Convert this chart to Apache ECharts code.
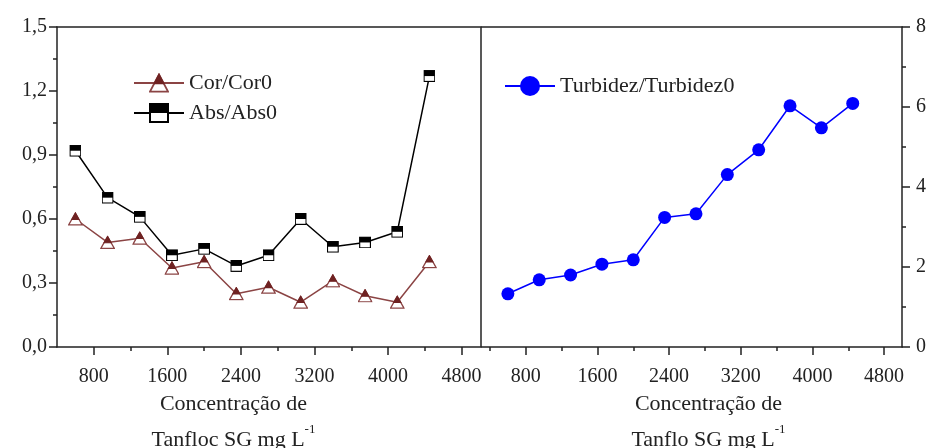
<!DOCTYPE html>
<html>
<head>
<meta charset="utf-8">
<script src="https://cdn.jsdelivr.net/npm/echarts@6/dist/echarts.min.js"></script>
<style>html,body{margin:0;padding:0;background:#fff;}#c{width:930px;height:448px;}</style>
</head>
<body>
<div id="c"></div>
<script>
const concentration = [600, 950, 1300, 1650, 2000, 2350, 2700, 3050, 3400, 3750, 4100, 4450];
const corRatio = [0.60, 0.49, 0.51, 0.37, 0.40, 0.25, 0.28, 0.21, 0.31, 0.24, 0.21, 0.40];
const absRatio = [0.92, 0.70, 0.61, 0.43, 0.46, 0.38, 0.43, 0.60, 0.47, 0.49, 0.54, 1.27];
const turbRatio = [1.33, 1.68, 1.80, 2.07, 2.18, 3.24, 3.33, 4.31, 4.93, 6.03, 5.48, 6.09];
const xMajorTicks = [800, 1600, 2400, 3200, 4000, 4800];
const xMinorTicksLeft = [1200, 2000, 2800, 3600, 4400];
const xMinorTicksRight = [400, 1200, 2000, 2800, 3600, 4400];
const seriesNames = ['Cor/Cor0', 'Abs/Abs0', 'Turbidez/Turbidez0'];
const xTitleLeft = ['Concentração de', 'Tanfloc SG mg L'];
const xTitleRight = ['Concentração de', 'Tanflo SG mg L'];

const FONT = '"Liberation Serif", "Times New Roman", serif';
const INK = '#222';
const BROWN_FILL = '#6f2222';
const BROWN_LINE = '#8b4444';

function svgUri(svg) { return 'image://data:image/svg+xml;charset=utf-8,' + encodeURIComponent(svg); }
const squareHalf = svgUri("<svg xmlns='http://www.w3.org/2000/svg' width='40' height='40' viewBox='0 0 40 40'><rect x='2' y='2' width='36' height='36' fill='white' stroke='black' stroke-width='4'/><rect x='2' y='2' width='36' height='18' fill='black'/></svg>");
const triHalf = svgUri("<svg xmlns='http://www.w3.org/2000/svg' width='40' height='40' viewBox='0 0 40 40'><polygon points='20,3 38,37 2,37' fill='white' stroke='" + BROWN_LINE + "' stroke-width='3.5' stroke-linejoin='miter'/><polygon points='20,3 29.5,21 10.5,21' fill='" + BROWN_FILL + "' stroke='" + BROWN_FILL + "' stroke-width='3'/></svg>");

const pairs = (xs, ys) => xs.map((x, i) => [x, ys[i]]);

const tickLabel = {fontFamily: FONT, fontSize: 20, color: INK};
const axisLineStyle = {lineStyle: {color: INK, width: 1.5}};

function nameOpt(lines, padding) {
  return {
    name: lines[0] + '\n{a|' + lines[1] + '}{s|-1}',
    nameLocation: 'middle',
    nameGap: 39,
    nameMoveOverlap: false,
    nameTextStyle: {
      fontFamily: FONT, fontSize: 22, color: INK, lineHeight: 36, padding: padding,
      rich: {
        a: {fontFamily: FONT, fontSize: 22, color: INK, lineHeight: 36},
        s: {fontFamily: FONT, fontSize: 13, color: INK, lineHeight: 13, padding: [0, 0, 20, 0]}
      }
    }
  };
}

const option = {
  animation: false,
  backgroundColor: '#fff',
  grid: [
    {left: 57, top: 27, width: 423, height: 320, outerBoundsMode: 'none', containLabel: false},
    {left: 481, top: 27, width: 421, height: 320, outerBoundsMode: 'none', containLabel: false}
  ],
  legend: [
    {
      data: [seriesNames[0], seriesNames[1]], orient: 'vertical', left: 128, top: 67,
      itemWidth: 50, itemHeight: 25, itemGap: 8,
      textStyle: {fontFamily: FONT, fontSize: 22, color: INK}
    },
    {
      data: [seriesNames[2]], orient: 'vertical', left: 499, top: 70,
      itemWidth: 50, itemHeight: 25,
      textStyle: {fontFamily: FONT, fontSize: 22, color: INK}
    }
  ],
  xAxis: [
    Object.assign({
      gridIndex: 0, type: 'value', position: 'bottom', min: 400, max: 5000,
      axisLine: axisLineStyle,
      axisTick: {show: true, length: 8, customValues: xMajorTicks, lineStyle: {color: INK, width: 1.5}},
      axisLabel: Object.assign({customValues: xMajorTicks, margin: 20, formatter: v => String(v)}, tickLabel),
      splitLine: {show: false}
    }, nameOpt(xTitleLeft, [0, 70, 0, 0])),
    {
      gridIndex: 0, type: 'value', position: 'bottom', min: 400, max: 5000,
      axisLine: {show: false},
      axisTick: {show: true, length: 4, customValues: xMinorTicksLeft, lineStyle: {color: INK, width: 1.5}},
      axisLabel: {show: false}, splitLine: {show: false}
    },
    {
      gridIndex: 0, type: 'value', position: 'top', min: 400, max: 5000,
      axisLine: axisLineStyle, axisTick: {show: false}, axisLabel: {show: false}, splitLine: {show: false}
    },
    Object.assign({
      gridIndex: 1, type: 'value', position: 'bottom', min: 300, max: 5000,
      axisLine: axisLineStyle,
      axisTick: {show: true, length: 8, customValues: xMajorTicks, lineStyle: {color: INK, width: 1.5}},
      axisLabel: Object.assign({customValues: xMajorTicks, margin: 20, formatter: v => String(v)}, tickLabel),
      splitLine: {show: false}
    }, nameOpt(xTitleRight, [0, 0, 0, 34])),
    {
      gridIndex: 1, type: 'value', position: 'bottom', min: 300, max: 5000,
      axisLine: {show: false},
      axisTick: {show: true, length: 4, customValues: xMinorTicksRight, lineStyle: {color: INK, width: 1.5}},
      axisLabel: {show: false}, splitLine: {show: false}
    },
    {
      gridIndex: 1, type: 'value', position: 'top', min: 300, max: 5000,
      axisLine: axisLineStyle, axisTick: {show: false}, axisLabel: {show: false}, splitLine: {show: false}
    }
  ],
  yAxis: [
    {
      gridIndex: 0, type: 'value', position: 'left', min: 0, max: 1.5, interval: 0.3,
      axisLine: axisLineStyle,
      axisTick: {show: true, length: 8, lineStyle: {color: INK, width: 1.5}},
      minorTick: {show: true, splitNumber: 2, length: 4, lineStyle: {color: INK, width: 1.5}},
      axisLabel: Object.assign({margin: 10, formatter: v => v.toFixed(1).replace('.', ',')}, tickLabel),
      splitLine: {show: false}
    },
    {
      gridIndex: 1, type: 'value', position: 'right', min: 0, max: 8, interval: 2,
      axisLine: axisLineStyle,
      axisTick: {show: true, length: 8, lineStyle: {color: INK, width: 1.5}},
      minorTick: {show: true, splitNumber: 2, length: 4, lineStyle: {color: INK, width: 1.5}},
      axisLabel: Object.assign({margin: 14}, tickLabel),
      splitLine: {show: false}
    },
    {
      gridIndex: 1, type: 'value', position: 'left', min: 0, max: 8,
      axisLine: axisLineStyle, axisTick: {show: false}, axisLabel: {show: false}, splitLine: {show: false}
    }
  ],
  series: [
    {
      name: seriesNames[0], type: 'line', xAxisIndex: 0, yAxisIndex: 0,
      data: pairs(concentration, corRatio),
      symbol: triHalf, symbolSize: [15, 14],
      lineStyle: {color: BROWN_LINE, width: 1.5},
      itemStyle: {color: BROWN_LINE}
    },
    {
      name: seriesNames[1], type: 'line', xAxisIndex: 0, yAxisIndex: 0,
      data: pairs(concentration, absRatio),
      symbol: squareHalf, symbolSize: [12, 12],
      lineStyle: {color: '#000', width: 1.5},
      itemStyle: {color: '#000'}
    },
    {
      name: seriesNames[2], type: 'line', xAxisIndex: 3, yAxisIndex: 1,
      data: pairs(concentration, turbRatio),
      symbol: 'circle', symbolSize: 13,
      lineStyle: {color: '#0000ff', width: 1.5},
      itemStyle: {color: '#0000ff'}
    }
  ]
};

const chart = echarts.init(document.getElementById('c'), null, {renderer: 'canvas'});
chart.setOption(option);
</script>
</body>
</html>
